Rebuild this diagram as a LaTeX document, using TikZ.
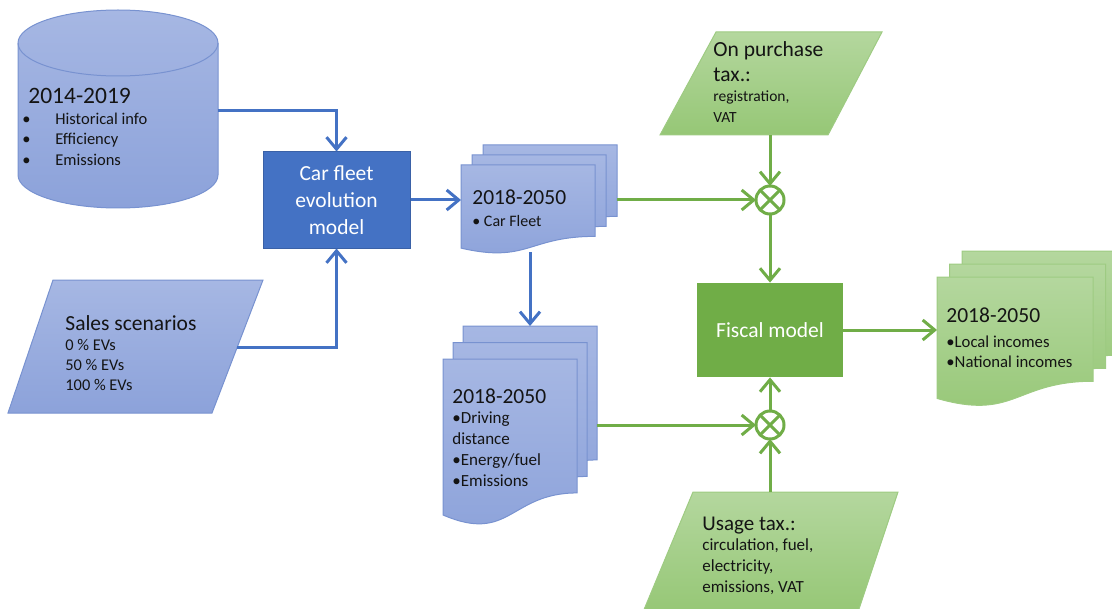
\documentclass[tikz,border=0pt]{standalone}
\usepackage{fontspec}
\setmainfont{Carlito}
\usetikzlibrary{arrows.meta}

\definecolor{fleetblue}{RGB}{68,114,196}
\definecolor{paleblue}{RGB}{166,183,227}
\definecolor{paleblue2}{RGB}{140,162,218}
\definecolor{blueedge}{RGB}{120,146,208}
\definecolor{fiscalgreen}{RGB}{112,173,71}
\definecolor{palegreen}{RGB}{180,215,158}
\definecolor{palegreen2}{RGB}{150,199,118}
\definecolor{greenedge}{RGB}{158,203,130}
\definecolor{ink}{RGB}{20,20,20}

% flowchart document page: [style] x, y (top left), width, height
\newcommand\docpage[5][]{%
  \path[#1] ({#2},{#3}) -- ({#2+#4},{#3}) -- ({#2+#4},{#3+0.802*#5})
    .. controls ({#2+0.5*#4},{#3+0.802*#5}) and ({#2+0.5*#4},{#3+1.107*#5})
    .. ({#2},{#3+0.934*#5}) -- cycle;}
% three pages, each one shifted by dx, dy: [style] x, y, width, height, dx, dy
\newcommand\docstack[7][]{%
  \docpage[#1]{#2+2*#6}{#3-2*#7}{#4}{#5}
  \docpage[#1]{#2+#6}{#3-#7}{#4}{#5}
  \docpage[#1]{#2}{#3}{#4}{#5}}

\begin{document}
\begin{tikzpicture}[x=0.5pt,y=-0.5pt,
  bluepage/.style={draw=blueedge,line width=0.5pt,top color=paleblue,bottom color=paleblue2},
  greenpage/.style={draw=greenedge,line width=0.5pt,top color=palegreen,bottom color=palegreen2},
  blueflow/.style={draw=fleetblue,line width=1.5pt,-{Straight Barb[length=6pt,width=10pt]}},
  greenflow/.style={blueflow,draw=fiscalgreen},
  model/.style={rectangle,inner sep=0,text=white,align=center,font=\fontsize{10.75}{13.5}\selectfont},
  mult/.style={circle,draw=fiscalgreen,line width=1.5pt,fill=white,minimum size=14pt,inner sep=0,outer sep=0},
  head/.style={anchor=base west,inner sep=0,text=ink,font=\fontsize{10.75}{13}\selectfont},
  item/.style={anchor=base west,inner sep=0,text=ink,font=\fontsize{8.5}{10}\selectfont}]
\clip (0,0) rectangle (1112,609);

% historical data (cylinder)
\path[bluepage] (18,43) -- (18,175) arc[start angle=180,end angle=360,x radius=50pt,y radius=16.5pt]
  -- (218,43) arc[start angle=0,end angle=180,x radius=50pt,y radius=16.5pt] -- cycle;
\draw[blueedge,line width=0.5pt] (218,43) arc[start angle=0,end angle=-180,x radius=50pt,y radius=16.5pt];
\node[head,font=\fontsize{11.75}{14}\selectfont] (db head) at (28,104) {2014-2019};
\foreach \t [count=\i] in {Historical info,Efficiency,Emissions}
  \node[item,font=\fontsize{8.25}{10}\selectfont] (db item\i) at (22,{104+20.5*\i}) {\makebox[16.5pt][l]{\textbullet}\t};
\coordinate (db out) at (218,111);

% sales scenarios
\path[bluepage] (53,280) -- (263,280) -- (212,413) -- (8,413) -- cycle;
\node[head] (sales head) at (65,330) {Sales scenarios};
\foreach \t [count=\i] in {0 \% EVs,50 \% EVs,100 \% EVs}
  \node[item,font=\fontsize{8.2}{10}\selectfont] (sales item\i) at (65,{330+20*\i}) {\t};
\coordinate (sales out) at (237,347);

% car fleet model
\node[model,fill=fleetblue,draw=fleetblue!85!black,line width=0.5pt,minimum width=73.5pt,minimum height=48pt]
  (fleet) at (336.5,200) {Car fleet\\evolution\\model};

% car fleet output
\docstack[bluepage]{461}{165}{134}{89}{11}{10}
\node[head] (fleetdoc head) at (472,205) {2018-2050};
\node[item,font=\fontsize{8}{10}\selectfont] (fleetdoc item) at (472,227) {\textbullet\ Car Fleet};
\coordinate (fleetdoc in) at (461,200);
\coordinate (fleetdoc down) at (530,252);
\coordinate (fleetdoc out) at (617,200);

% driving output
\docstack[bluepage]{443}{359}{134}{167}{10}{16.5}
\node[head] (drive head) at (452,403) {2018-2050};
\foreach \t [count=\i] in {\textbullet Driving,distance,\textbullet Energy/fuel,\textbullet Emissions}
  \node[item] (drive item\i) at (452,{403+20.8*\i}) {\t};
\coordinate (drive in) at (530,326);
\coordinate (drive out) at (597,425);

% taxes
\path[greenpage] (716,32) -- (882,32) -- (828,135) -- (660,135) -- cycle;
\node[head] (buy head1) at (713,57) {On purchase};
\node[head] (buy head2) at (713,82) {tax.:};
\node[item,font=\fontsize{7.75}{10}\selectfont] (buy item1) at (713,102) {registration,};
\node[item,font=\fontsize{7.75}{10}\selectfont] (buy item2) at (713,123) {VAT};
\coordinate (buy out) at (770,135);

\path[greenpage] (693,492) -- (898,492) -- (858,612) -- (643,612) -- cycle;
\node[head,font=\fontsize{10.5}{13}\selectfont] (use head) at (702,530) {Usage tax.:};
\foreach \t [count=\i] in {{circulation, fuel,},{electricity,},{emissions, VAT}}
  \node[item] (use item\i) at (702,{530+20.7*\i}) {\t};
\coordinate (use out) at (770,492);

% fiscal model and incomes
\node[model,fill=fiscalgreen,minimum width=73pt,minimum height=47pt] (fiscal) at (770,330) {Fiscal model};
\docstack[greenpage]{937}{277}{156}{130}{12.5}{13}
\node[head] (income head) at (946,322) {2018-2050};
\node[item,font=\fontsize{8.35}{10}\selectfont] (income item1) at (946,347) {\textbullet Local incomes};
\node[item,font=\fontsize{8.35}{10}\selectfont] (income item2) at (946,367) {\textbullet National incomes};
\coordinate (income in) at (937,330);

\node[mult] (mulA) at (770,200) {};
\node[mult] (mulB) at (770,425) {};
\foreach \m in {mulA,mulB}
  \draw[fiscalgreen,line width=1.5pt] (\m.north west) -- (\m.south east) (\m.north east) -- (\m.south west);

% flows
\draw[blueflow] (db out) -| (fleet);
\draw[blueflow] (sales out) -| (fleet);
\draw[blueflow] (fleet) -- (fleetdoc in);
\draw[blueflow] (fleetdoc down) -- (drive in);
\draw[greenflow] (fleetdoc out) -- (mulA);
\draw[greenflow] (buy out) -- (mulA);
\draw[greenflow] (mulA) -- (fiscal);
\draw[greenflow] (drive out) -- (mulB);
\draw[greenflow] (use out) -- (mulB);
\draw[greenflow] (mulB) -- (fiscal);
\draw[greenflow] (fiscal) -- (income in);
\end{tikzpicture}
\end{document}
